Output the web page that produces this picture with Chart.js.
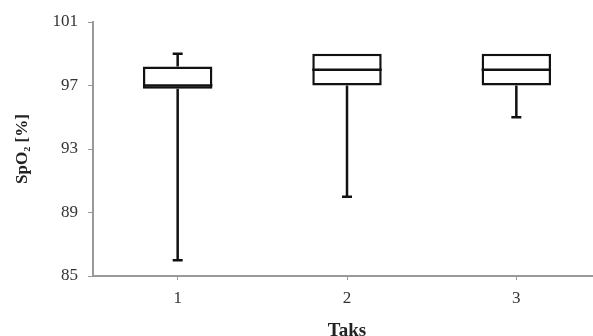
<!DOCTYPE html>
<html>
<head>
<meta charset="utf-8">
<script src="https://cdn.jsdelivr.net/npm/chart.js@4"></script>
<style>
    html, body { margin: 0; padding: 0; background: #fff; overflow: hidden; }
    #wrap { width: 593px; height: 336px; overflow: hidden; }
</style>
</head>
<body>
<div id="wrap"><canvas id="boxChart" width="601" height="344"></canvas></div>
<script>
// Datos del diagrama de caja
const tasks = ['1', '2', '3'];
const minValues = [86, 90, 95];
const q1Values = [96.8, 97, 97];
const medianValues = [97, 98, 98];
const q3Values = [98.2, 99, 99];
const maxValues = [99, 99, 99];
const yTicks = [85, 89, 93, 97, 101];

// Bigotes y medianas dibujados con las escalas de Chart.js
const boxPlugin = {
    id: 'boxWhiskers',
    afterDatasetsDraw(chart) {
        const ctx = chart.ctx;
        const x = chart.scales.x;
        const y = chart.scales.y;
        const meta = chart.getDatasetMeta(0);
        ctx.save();
        ctx.strokeStyle = '#111';
        ctx.lineWidth = 2.5;
        tasks.forEach((t, i) => {
            const cx = x.getPixelForValue(i);
            const half = meta.data[i].width / 2;
            // mediana
            ctx.beginPath();
            ctx.moveTo(cx - half, y.getPixelForValue(medianValues[i]));
            ctx.lineTo(cx + half, y.getPixelForValue(medianValues[i]));
            ctx.stroke();
            // bigote inferior
            if (minValues[i] < q1Values[i]) {
                ctx.beginPath();
                ctx.moveTo(cx, y.getPixelForValue(q1Values[i]));
                ctx.lineTo(cx, y.getPixelForValue(minValues[i]));
                ctx.moveTo(cx - 5, y.getPixelForValue(minValues[i]));
                ctx.lineTo(cx + 5, y.getPixelForValue(minValues[i]));
                ctx.stroke();
            }
            // bigote superior
            if (maxValues[i] > q3Values[i]) {
                ctx.beginPath();
                ctx.moveTo(cx, y.getPixelForValue(q3Values[i]));
                ctx.lineTo(cx, y.getPixelForValue(maxValues[i]));
                ctx.moveTo(cx - 5, y.getPixelForValue(maxValues[i]));
                ctx.lineTo(cx + 5, y.getPixelForValue(maxValues[i]));
                ctx.stroke();
            }
        });
        ctx.restore();
    }
};

const serif = '"Liberation Serif", "Times New Roman", serif';

new Chart(document.getElementById('boxChart').getContext('2d'), {
    type: 'bar',
    data: {
        labels: tasks,
        datasets: [{
            data: tasks.map((t, i) => [q1Values[i], q3Values[i]]),
            backgroundColor: '#fff',
            borderColor: '#111',
            borderWidth: 2.5,
            borderSkipped: false,
            barPercentage: 0.41,
            categoryPercentage: 1
        }]
    },
    options: {
        responsive: false,
        animation: false,
        layout: { padding: { top: 22, right: 0, left: 0, bottom: 0 } },
        plugins: {
            legend: { display: false },
            tooltip: { enabled: false }
        },
        scales: {
            x: {
                offset: true,
                grid: { display: true, offset: false, drawOnChartArea: false, color: '#999', tickLength: 4 },
                border: { color: '#999', width: 2 },
                ticks: { color: '#333', font: { family: serif, size: 17 }, padding: 8 },
                title: {
                    display: true,
                    text: 'Taks',
                    color: '#222',
                    font: { family: serif, size: 19, weight: 'bold' },
                    padding: { top: 19, bottom: 2 }
                },
                afterFit(scale) { scale.height = 68; }
            },
            y: {
                min: 85,
                max: 101,
                afterBuildTicks(scale) { scale.ticks = yTicks.map(v => ({ value: v })); },
                grid: { display: true, drawOnChartArea: false, color: '#999', tickLength: 5 },
                border: { color: '#999', width: 2 },
                ticks: { color: '#333', font: { family: serif, size: 17 }, padding: 10 },
                title: {
                    display: true,
                    text: 'SpO₂ [%]',
                    color: '#222',
                    font: { family: serif, size: 17, weight: 'bold' },
                    padding: { top: 12, bottom: 8 }
                },
                afterFit(scale) { scale.width = 93; }
            }
        }
    },
    plugins: [boxPlugin]
});
</script>
</body>
</html>
